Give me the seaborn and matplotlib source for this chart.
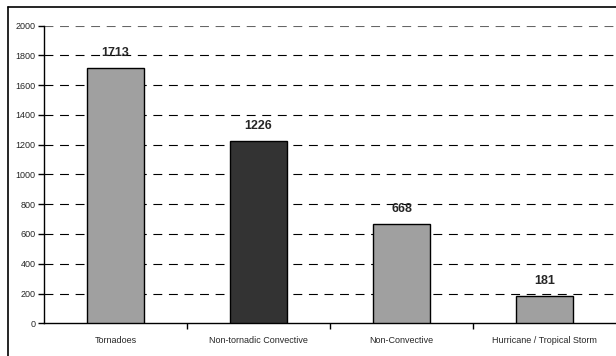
import matplotlib
matplotlib.use("Agg")
import matplotlib.pyplot as plt
import seaborn as sns
from matplotlib.lines import Line2D

categories = ["Tornadoes", "Non-tornadic Convective", "Non-Convective", "Hurricane / Tropical Storm"]
values = [1713, 1226, 668, 181]
bar_colors = ["#A0A0A0", "#333333", "#A0A0A0", "#A0A0A0"]
yticks = [0, 200, 400, 600, 800, 1000, 1200, 1400, 1600, 1800, 2000]

sns.set_style("white")
plt.rcParams['font.family'] = ['Liberation Sans', 'DejaVu Sans']

fig = plt.figure(figsize=(6.16, 3.56), dpi=100)
ax = fig.add_axes([44/616, 1-323.3/356, 1-44/616, (323.3-25.5)/356])

sns.barplot(x=categories, y=values, hue=categories, palette=bar_colors, legend=False,
            width=0.4, edgecolor="black", linewidth=1, ax=ax, saturation=1, zorder=3)

ax.set_xlim(-0.5, 3.5)
ax.set_ylim(0, 2000)
ax.set_yticks(yticks)
ax.set_yticklabels([str(v) for v in yticks], fontsize=6.5)
ax.set_xticks(range(len(categories)))
ax.set_xticklabels(categories, fontsize=6.5)
ax.tick_params(axis='x', which='major', length=0, pad=9)
ax.set_xticks([0.5, 1.5, 2.5], minor=True)
ax.tick_params(axis='x', which='minor', length=4, width=1, color='black', direction='out', bottom=True)
ax.tick_params(axis='y', length=4, width=1, color='black', direction='out', left=True, pad=2)

for y in yticks[1:]:
    ax.axhline(y, color='black', linestyle=(0, (8, 6)), linewidth=0.8, zorder=1,
               alpha=0.6 if y == 2000 else 1.0)

for s in ['top', 'right']:
    ax.spines[s].set_visible(False)
for s in ['left', 'bottom']:
    ax.spines[s].set_color('black')
    ax.spines[s].set_linewidth(1)

for i, v in enumerate(values):
    ax.text(i, v + 60, str(v), ha='center', va='bottom', fontsize=9, fontweight='bold', zorder=4)

ax.set_xlabel("")
ax.set_ylabel("")

fig.add_artist(Line2D([7.5/616, 7.5/616], [0, 1-7.3/356], transform=fig.transFigure, color='black', lw=1.2))
fig.add_artist(Line2D([7.5/616, 1], [1-7.3/356, 1-7.3/356], transform=fig.transFigure, color='black', lw=1.2))

fig.savefig("out.png", dpi=100)
